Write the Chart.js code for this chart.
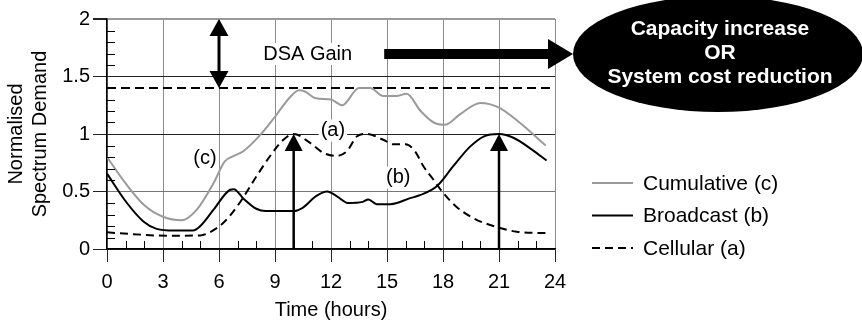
<!DOCTYPE html>
<html>
<head>
<meta charset="utf-8">
<script src="https://cdn.jsdelivr.net/npm/chart.js@4"></script>
<style>
  html, body { margin: 0; padding: 0; background: #fff; }
  #demandChart { display: block; }
</style>
</head>
<body>
<canvas id="demandChart" width="862" height="322"></canvas>
<script>
// Axis ticks
const hourTicks = [0, 3, 6, 9, 12, 15, 18, 21, 24];
const demandTicks = [0, 0.5, 1, 1.5, 2];

// Cumulative (c)
const cumulativeHours  = [0, 1, 2, 3, 4, 4.8, 5.7, 6.3, 6.8, 7.3, 8.2, 9, 9.8, 10.3, 10.6, 11.2, 12, 12.6, 13.5, 14.1, 14.8, 15.5, 16.05, 16.8, 17.5, 18.1, 18.9, 20, 21, 22.1, 23.5];
const cumulativeDemand = [0.8, 0.57, 0.38, 0.28, 0.25, 0.34, 0.57, 0.76, 0.81, 0.85, 0.99, 1.15, 1.32, 1.38, 1.37, 1.31, 1.3, 1.25, 1.4, 1.4, 1.33, 1.33, 1.35, 1.2, 1.1, 1.08, 1.17, 1.27, 1.23, 1.1, 0.9];

// Broadcast (b)
const broadcastHours  = [0, 1.07, 1.95, 2.66, 3.6, 4.6, 5, 5.7, 6.6, 6.8, 7.3, 8, 8.5, 10, 10.5, 11.2, 11.8, 12.3, 12.9, 13.7, 14, 14.45, 15.2, 16.2, 16.8, 17.7, 18.55, 19.45, 20.2, 21, 21.8, 22.8, 23.55];
const broadcastDemand = [0.655, 0.4, 0.24, 0.175, 0.16, 0.16, 0.2, 0.34, 0.515, 0.52, 0.44, 0.35, 0.33, 0.33, 0.36, 0.46, 0.5, 0.46, 0.4, 0.41, 0.43, 0.39, 0.39, 0.44, 0.47, 0.55, 0.72, 0.89, 0.98, 1, 0.965, 0.86, 0.77];

// Cellular (a)
const cellularHours  = [0, 1.8, 3.2, 5, 5.5, 6.25, 7.1, 8, 8.7, 9.45, 10, 10.9, 11.6, 12.3, 12.85, 13.4, 13.9, 14.8, 15.35, 16, 16.5, 16.95, 17.5, 18, 18.7, 19.6, 20.7, 21.95, 23.2, 23.5];
const cellularDemand = [0.145, 0.125, 0.115, 0.118, 0.145, 0.23, 0.4, 0.63, 0.8, 0.95, 1, 0.92, 0.835, 0.81, 0.85, 0.98, 1, 0.95, 0.91, 0.91, 0.85, 0.72, 0.6, 0.49, 0.37, 0.27, 0.2, 0.15, 0.14, 0.14];

// Provisioned spectrum without DSA, and the peaks it has to cover
const provisionedLevel = 1.4;
const peakHours = [10, 21];
const peakDemand = 1;
const gainHour = 6;
const gainTop = 2;

const FONT = "'Liberation Sans', Arial, Helvetica, sans-serif";

function toPoints(hours, values) {
  return hours.map((h, i) => ({ x: h, y: values[i] }));
}

function arrowHead(ctx, px, tipY, dir, halfW, len) {
  // dir = -1 points up, 1 points down
  ctx.beginPath();
  ctx.moveTo(px, tipY);
  ctx.lineTo(px - halfW, tipY - dir * len);
  ctx.lineTo(px + halfW, tipY - dir * len);
  ctx.closePath();
  ctx.fill();
}

// text sitting on a white patch so grid lines break around it
function boxedText(ctx, text, px, py) {
  const w = ctx.measureText(text).width;
  ctx.fillStyle = '#fff';
  ctx.fillRect(px - w / 2 - 2, py - 11, w + 4, 22);
  ctx.fillStyle = '#000';
  ctx.fillText(text, px, py);
}

const overlays = {
  id: 'overlays',
  afterDatasetsDraw(chart) {
    const { ctx, chartArea: area, scales: { x, y } } = chart;
    ctx.save();
    ctx.fillStyle = '#000';
    ctx.strokeStyle = '#000';

    // minor ticks, pointing inwards
    ctx.lineWidth = 1;
    ctx.beginPath();
    for (let i = 1; i < 20; i++) {
      if (i % 5 === 0) continue;
      const py = Math.round(y.getPixelForValue(i / 10)) + 0.5;
      ctx.moveTo(area.left, py);
      ctx.lineTo(area.left + 8, py);
    }
    for (let h = 1; h < 24; h++) {
      if (h % 3 === 0) continue;
      const px = Math.round(x.getPixelForValue(h)) + 0.5;
      ctx.moveTo(px, area.bottom);
      ctx.lineTo(px, area.bottom - 8);
    }
    ctx.stroke();

    // curve labels
    ctx.font = '20px ' + FONT;
    ctx.textAlign = 'center';
    ctx.textBaseline = 'middle';
    boxedText(ctx, '(c)', x.getPixelForValue(5.25), y.getPixelForValue(0.79));
    boxedText(ctx, '(a)', x.getPixelForValue(12.1), y.getPixelForValue(1.03));
    boxedText(ctx, '(b)', x.getPixelForValue(15.6), y.getPixelForValue(0.62));

    // peak arrows
    peakHours.forEach(h => {
      const px = x.getPixelForValue(h);
      const y0 = y.getPixelForValue(0);
      const y1 = y.getPixelForValue(peakDemand);
      ctx.lineWidth = 2.5;
      ctx.beginPath();
      ctx.moveTo(px, y0);
      ctx.lineTo(px, y1 + 12);
      ctx.stroke();
      arrowHead(ctx, px, y1, -1, 9, 17);
    });

    // DSA gain double arrow
    const gx = x.getPixelForValue(gainHour);
    const gTop = y.getPixelForValue(gainTop);
    const gBot = y.getPixelForValue(provisionedLevel);
    ctx.lineWidth = 3;
    ctx.beginPath();
    ctx.moveTo(gx, gTop + 12);
    ctx.lineTo(gx, gBot - 12);
    ctx.stroke();
    arrowHead(ctx, gx, gTop, -1, 9.5, 17);
    arrowHead(ctx, gx, gBot, 1, 9.5, 17);
    ctx.restore();
  },
  afterDraw(chart) {
    const { ctx, chartArea: area, scales: { x } } = chart;
    ctx.save();

    // outcome bubble with the arrow leading into it
    const cx = area.right + 163;
    const cy = area.top + 35;
    const rx = 145, ry = 58;
    ctx.fillStyle = '#000';
    ctx.beginPath();
    ctx.ellipse(cx, cy, rx, ry, 0, 0, Math.PI * 2);
    ctx.fill();

    const tip = cx - rx;
    const shaftStart = x.getPixelForValue(14.85);
    ctx.fillRect(shaftStart, cy - 5, tip - 25 - shaftStart, 10);
    ctx.beginPath();
    ctx.moveTo(tip, cy);
    ctx.lineTo(tip - 25, cy - 15);
    ctx.lineTo(tip - 25, cy + 15);
    ctx.closePath();
    ctx.fill();

    ctx.textAlign = 'center';
    ctx.textBaseline = 'middle';
    ctx.font = '20px ' + FONT;
    boxedText(ctx, 'DSA Gain', x.getPixelForValue(10.75), cy);

    ctx.fillStyle = '#fff';
    ctx.font = 'bold 21px ' + FONT;
    ['Capacity increase', 'OR', 'System cost reduction'].forEach((t, i) => {
      ctx.fillText(t, cx + 2, cy - 25 + i * 24);
    });

    // legend
    ctx.textAlign = 'left';
    ctx.font = '21px ' + FONT;
    chart.data.datasets.slice(0, 3).forEach((ds, i) => {
      const ly = area.bottom - 66 + i * 32.5;
      const lx = area.right + 37;
      ctx.strokeStyle = ds.borderColor;
      ctx.lineWidth = 2;
      ctx.setLineDash(ds.borderDash || []);
      ctx.beginPath();
      ctx.moveTo(lx, ly);
      ctx.lineTo(lx + 41, ly);
      ctx.stroke();
      ctx.setLineDash([]);
      ctx.fillStyle = '#000';
      ctx.fillText(ds.label, lx + 51, ly + 1);
    });
    ctx.restore();
  }
};

new Chart(document.getElementById('demandChart'), {
  type: 'line',
  data: {
    datasets: [
      {
        label: 'Cumulative (c)',
        data: toPoints(cumulativeHours, cumulativeDemand),
        borderColor: '#9a9a9a',
        borderWidth: 2
      },
      {
        label: 'Broadcast (b)',
        data: toPoints(broadcastHours, broadcastDemand),
        borderColor: '#000',
        borderWidth: 2
      },
      {
        label: 'Cellular (a)',
        data: toPoints(cellularHours, cellularDemand),
        borderColor: '#000',
        borderWidth: 2,
        borderDash: [8, 5]
      },
      {
        label: '',
        data: toPoints([0, 24], [provisionedLevel, provisionedLevel]),
        borderColor: '#000',
        borderWidth: 2,
        borderDash: [9, 5]
      }
    ]
  },
  options: {
    responsive: false,
    animation: false,
    devicePixelRatio: 1,
    layout: { padding: { top: 19, right: 307, bottom: 0, left: 0 } },
    elements: {
      point: { radius: 0 },
      line: { cubicInterpolationMode: 'monotone', fill: false }
    },
    plugins: {
      legend: { display: false },
      tooltip: { enabled: false }
    },
    scales: {
      x: {
        type: 'linear',
        min: 0,
        max: 24,
        afterBuildTicks: s => { s.ticks = hourTicks.map(v => ({ value: v })); },
        afterFit: s => { s.height = 73; },
        ticks: { color: '#000', padding: 8, font: { family: FONT, size: 20 } },
        grid: { color: '#8c8c8c', lineWidth: 1, tickLength: 13, tickColor: '#222' },
        border: { color: '#000', width: 1.5 },
        title: {
          display: true,
          text: 'Time (hours)',
          color: '#000',
          font: { family: FONT, size: 20, lineHeight: 1.15 },
          padding: { top: 0, bottom: 0 }
        }
      },
      y: {
        min: 0,
        max: 2,
        afterBuildTicks: s => { s.ticks = demandTicks.map(v => ({ value: v })); },
        afterFit: s => { s.width = 107; },
        ticks: {
          color: '#000',
          padding: 3,
          font: { family: FONT, size: 20 },
          callback: v => String(v)
        },
        grid: {
          color: c => c.tick.value === 2 ? '#9a9a9a' : (c.tick.value === 0.5 ? '#777' : '#222'),
          lineWidth: c => c.tick.value === 2 ? 2 : 1,
          tickLength: 14,
          tickColor: '#222'
        },
        border: { color: '#000', width: 1.5 },
        title: {
          display: true,
          text: ['Normalised', 'Spectrum Demand'],
          color: '#000',
          font: { family: FONT, size: 20, lineHeight: 1.18 },
          padding: { top: 5, bottom: 0 }
        }
      }
    }
  },
  plugins: [overlays]
});
</script>
</body>
</html>
